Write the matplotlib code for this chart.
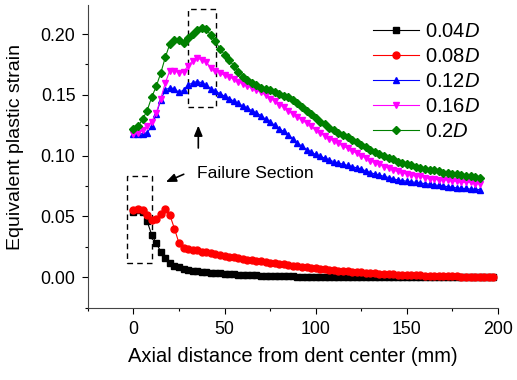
import matplotlib
matplotlib.use('Agg')
import matplotlib.pyplot as plt
import matplotlib.ticker as mtick
from matplotlib.patches import Rectangle

plt.rcParams['font.family'] = ['Liberation Sans', 'DejaVu Sans']
plt.rcParams['mathtext.fontset'] = 'custom'
plt.rcParams['mathtext.rm'] = 'Liberation Sans'
plt.rcParams['mathtext.it'] = 'Liberation Sans:italic'

# ---- Data
x_up = [0, 2.5, 5, 7.5, 10, 12.5, 15, 17.5, 20, 22.5,
        25, 27.5, 30, 32.5, 35, 37.5, 40, 42.5, 45, 47.5,
        50, 52.5, 55, 57.5, 60, 62.5, 65, 67.5, 70, 72.5,
        75, 77.5, 80, 82.5, 85, 87.5, 90, 92.5, 95, 97.5,
        100, 102.5, 105, 107.5, 110, 112.5, 115, 117.5, 120, 122.5,
        125, 127.5, 130, 132.5, 135, 137.5, 140, 142.5, 145, 147.5,
        150, 152.5, 155, 157.5, 160, 162.5, 165, 167.5, 170, 172.5,
        175, 177.5, 180, 182.5, 185, 187.5, 190]
x_low = x_up + [192.5, 195, 197.5]

d004 = [0.054, 0.055, 0.054, 0.046, 0.035, 0.028, 0.021, 0.016, 0.012, 0.0095,
        0.008, 0.007, 0.006, 0.0055, 0.005, 0.0045, 0.004, 0.0037, 0.0034, 0.0031,
        0.0028, 0.0026, 0.0024, 0.0022, 0.002, 0.0018, 0.0016, 0.0015, 0.0013, 0.0012,
        0.0011, 0.001, 0.0009, 0.0008, 0.0007, 0.0006, 0.0005, 0.0005, 0.0004, 0.0004,
        0.0003, 0.0003, 0.0003, 0.0002, 0.0002, 0.0002, 0.0002, 0.0001, 0.0001, 0.0001,
        0.0001, 0.0001, 0.0001, 0.0001, 0.0001, 0.0, 0.0, 0.0, 0.0, 0.0,
        0.0, 0.0, 0.0, 0.0, 0.0, 0.0, 0.0, 0.0, 0.0, 0.0,
        0.0, 0.0, 0.0, 0.0, 0.0, 0.0, 0.0, 0.0, 0.0, 0.0]

d008 = [0.055, 0.056, 0.055, 0.051, 0.047, 0.048, 0.052, 0.056, 0.051, 0.040,
        0.028, 0.024, 0.023, 0.0225, 0.022, 0.021, 0.0205, 0.020, 0.019, 0.018,
        0.0175, 0.017, 0.0165, 0.016, 0.015, 0.0145, 0.014, 0.0135, 0.013, 0.0125,
        0.012, 0.0115, 0.011, 0.0105, 0.010, 0.0095, 0.009, 0.0085, 0.008, 0.0077,
        0.0073, 0.007, 0.0066, 0.0062, 0.0058, 0.0055, 0.0051, 0.0048, 0.0045, 0.0042,
        0.004, 0.0037, 0.0035, 0.0033, 0.003, 0.0028, 0.0026, 0.0024, 0.0022, 0.002,
        0.0019, 0.0017, 0.0015, 0.0014, 0.0013, 0.0012, 0.0011, 0.001, 0.0009, 0.0008,
        0.0007, 0.0006, 0.0005, 0.0005, 0.0004, 0.0003, 0.0003, 0.0002, 0.0002, 0.0001]

d012 = [0.118, 0.118, 0.118, 0.119, 0.124, 0.134, 0.146, 0.154, 0.156, 0.155,
        0.152, 0.154, 0.158, 0.160, 0.161, 0.160, 0.158, 0.155, 0.153, 0.151,
        0.149, 0.147, 0.145, 0.143, 0.141, 0.139, 0.137, 0.135, 0.133, 0.130,
        0.128, 0.125, 0.122, 0.120, 0.117, 0.114, 0.110, 0.108, 0.105, 0.103,
        0.101, 0.0995, 0.098, 0.0965, 0.095, 0.094, 0.093, 0.092, 0.091, 0.090,
        0.089, 0.0875, 0.086, 0.085, 0.084, 0.083, 0.082, 0.081, 0.080, 0.0795,
        0.079, 0.0785, 0.078, 0.0775, 0.077, 0.0765, 0.076, 0.0755, 0.075, 0.0745,
        0.074, 0.0735, 0.073, 0.073, 0.0725, 0.0725, 0.072]

d016 = [0.118, 0.119, 0.121, 0.124, 0.128, 0.135, 0.147, 0.160, 0.170, 0.170,
        0.168, 0.169, 0.174, 0.178, 0.180, 0.179, 0.177, 0.172, 0.170, 0.168,
        0.166, 0.165, 0.163, 0.161, 0.159, 0.157, 0.156, 0.154, 0.152, 0.150,
        0.147, 0.145, 0.142, 0.140, 0.137, 0.134, 0.132, 0.129, 0.127, 0.124,
        0.121, 0.119, 0.116, 0.114, 0.112, 0.110, 0.108, 0.106, 0.104, 0.102,
        0.100, 0.098, 0.096, 0.094, 0.093, 0.091, 0.090, 0.088, 0.087, 0.086,
        0.085, 0.084, 0.083, 0.083, 0.082, 0.081, 0.081, 0.080, 0.080, 0.080,
        0.079, 0.079, 0.078, 0.078, 0.078, 0.077, 0.077]

d020 = [0.122, 0.124, 0.130, 0.137, 0.148, 0.157, 0.168, 0.181, 0.192, 0.195,
        0.195, 0.193, 0.197, 0.200, 0.203, 0.205, 0.204, 0.199, 0.194, 0.188,
        0.183, 0.179, 0.174, 0.169, 0.165, 0.162, 0.160, 0.158, 0.156, 0.155,
        0.154, 0.152, 0.151, 0.149, 0.148, 0.146, 0.143, 0.140, 0.137, 0.134,
        0.131, 0.128, 0.126, 0.123, 0.121, 0.119, 0.117, 0.115, 0.113, 0.111,
        0.109, 0.107, 0.105, 0.103, 0.101, 0.100, 0.098, 0.097, 0.095, 0.094,
        0.093, 0.092, 0.091, 0.090, 0.089, 0.0885, 0.088, 0.087, 0.086, 0.0855,
        0.085, 0.0845, 0.084, 0.0835, 0.083, 0.0825, 0.082]

labels = [r'0.04$\it{D}$', r'0.08$\it{D}$', r'0.12$\it{D}$', r'0.16$\it{D}$', r'0.2$\it{D}$']

fig = plt.figure(figsize=(5.17, 3.8), dpi=100)
ax = fig.add_axes([0.170, 0.189, 0.793, 0.798])

# ---- Curves
ax.plot(x_low, d004, color='black', marker='s', markersize=4, lw=0.8, label=labels[0])
ax.plot(x_low, d008, color='red', marker='o', markersize=5, lw=0.8, label=labels[1])
ax.plot(x_up, d012, color='blue', marker='^', markersize=5, lw=0.8, label=labels[2])
ax.plot(x_up, d016, color='magenta', marker='v', markersize=5, lw=0.8, label=labels[3])
ax.plot(x_up, d020, color='green', marker='D', markersize=4, lw=0.8, label=labels[4])

# ---- Failure section boxes and arrows
ax.add_patch(Rectangle((30.1, 0.140), 15.4, 0.0806, fill=False,
                       ls=(0, (4, 3)), lw=1, ec='black'))
ax.add_patch(Rectangle((-3.3, 0.0115), 13.7, 0.0715, fill=False,
                       ls=(0, (4, 3)), lw=1, ec='black'))
ax.annotate('', xy=(35.6, 0.127), xytext=(35.6, 0.104),
            arrowprops=dict(arrowstyle='-|>,head_width=0.25,head_length=0.6',
                            color='black', lw=1.2))
ax.annotate('', xy=(16.4, 0.0774), xytext=(29, 0.0856),
            arrowprops=dict(arrowstyle='-|>,head_width=0.25,head_length=0.6',
                            color='black', lw=1.2))
ax.text(35, 0.0856, 'Failure Section', fontsize=12.6, va='center', ha='left')

# ---- Axes configuration
ax.set_xlim(-25, 200)
ax.set_ylim(-0.0255, 0.224)
ax.xaxis.set_major_locator(mtick.MultipleLocator(50))
ax.xaxis.set_minor_locator(mtick.MultipleLocator(25))
ax.yaxis.set_major_locator(mtick.MultipleLocator(0.05))
ax.yaxis.set_minor_locator(mtick.MultipleLocator(0.025))
ax.yaxis.set_major_formatter(mtick.FormatStrFormatter('%.2f'))
ax.tick_params(which='major', direction='out', length=4, width=0.8,
               labelsize=12.8, pad=5)
ax.tick_params(which='minor', direction='out', length=2.5, width=0.8)
for s in ['top', 'right']:
    ax.spines[s].set_visible(False)
for s in ['left', 'bottom']:
    ax.spines[s].set_color('#444444')

ax.set_xlabel('Axial distance from dent center (mm)', fontsize=14.5, labelpad=7)
ax.set_ylabel('Equivalent plastic strain', fontsize=14)
ax.yaxis.set_label_coords(-0.155, 0.53)

ax.legend(loc='upper right', bbox_to_anchor=(0.956, 0.945), frameon=False,
          fontsize=14.5, handlelength=2.25, labelspacing=0.3, handletextpad=0.3,
          borderpad=0, borderaxespad=0)

plt.savefig('out.png', dpi=100)
